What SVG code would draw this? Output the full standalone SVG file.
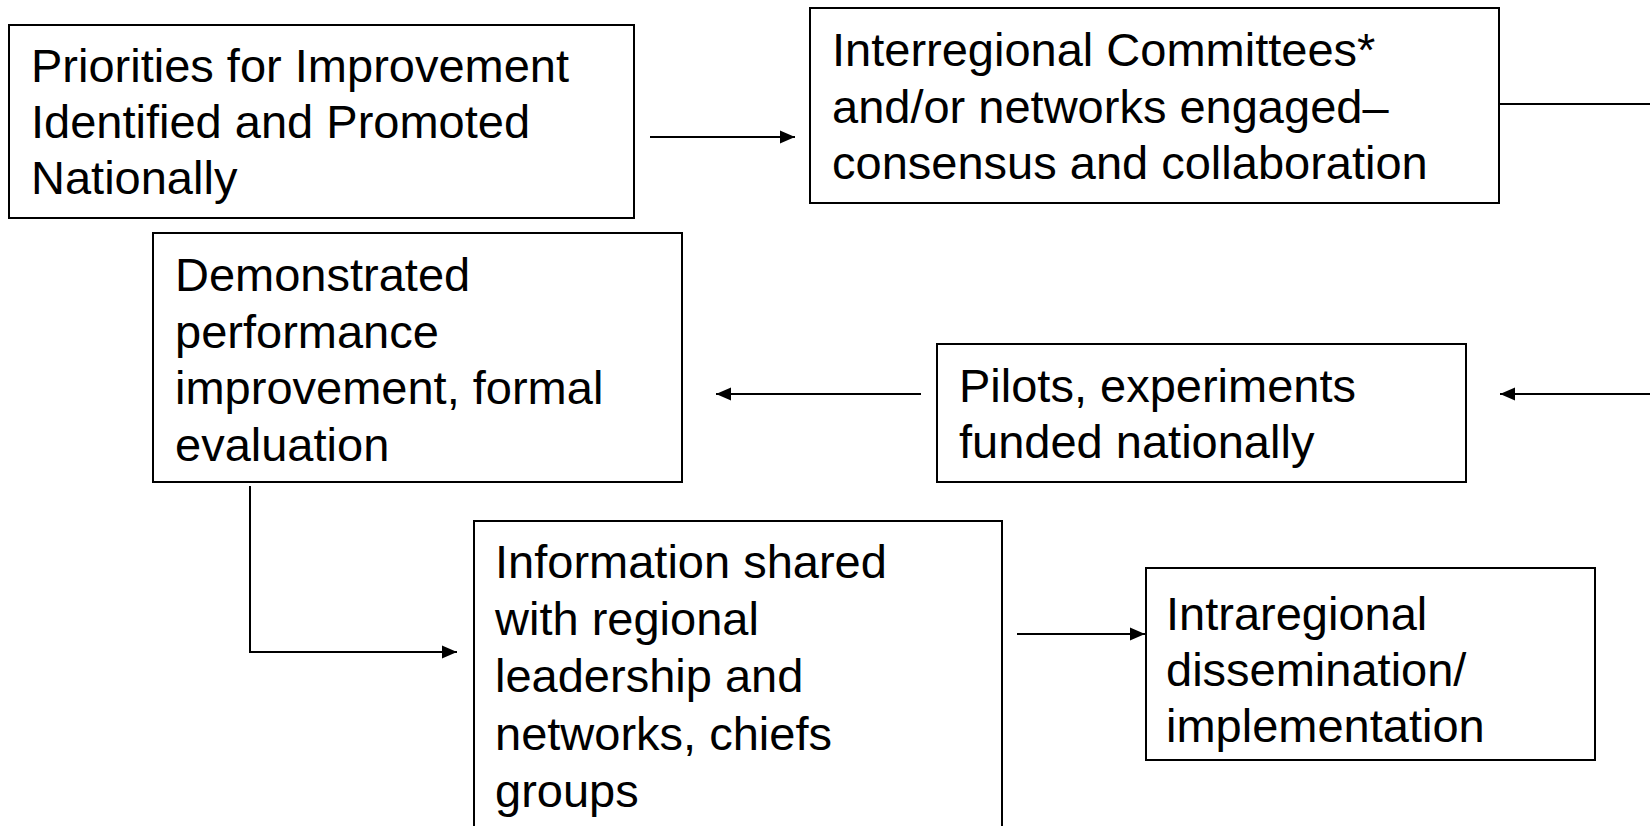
<svg xmlns="http://www.w3.org/2000/svg" width="1650" height="826" viewBox="0 0 1650 826">
  <style>
    .box { fill: #ffffff; stroke: #000000; stroke-width: 2; }
    .label { font-family: "Liberation Sans", Arial, sans-serif; font-size: 47px; fill: #000000; }
    .link { fill: none; stroke: #000000; stroke-width: 2; }
    .arrow { marker-end: url(#head); }
  </style>
  <defs>
    <marker id="head" markerUnits="userSpaceOnUse" markerWidth="16" markerHeight="14" refX="15" refY="7" orient="auto">
      <path d="M0,0.5 L15,7 L0,13.5 Z" fill="#000000"/>
    </marker>
  </defs>

  <rect width="1650" height="826" fill="#ffffff"/>

  <!-- connectors -->
  <g id="connectors">
    <line class="link arrow" x1="650" y1="137" x2="795" y2="137"/>
    <line class="link" x1="1499" y1="104" x2="1650" y2="104"/>
    <line class="link arrow" x1="1650" y1="394" x2="1500" y2="394"/>
    <line class="link arrow" x1="921" y1="394" x2="716" y2="394"/>
    <polyline class="link arrow" points="250,486 250,652 457,652"/>
    <line class="link arrow" x1="1017" y1="634" x2="1145" y2="634"/>
  </g>

  <!-- nodes -->
  <g id="priorities">
    <rect class="box" x="9" y="25" width="625" height="193"/>
    <text class="label" x="31" y="82">Priorities for Improvement</text>
    <text class="label" x="31" y="138">Identified and Promoted</text>
    <text class="label" x="31" y="194">Nationally</text>
  </g>

  <g id="interregional">
    <rect class="box" x="810" y="8" width="689" height="195"/>
    <text class="label" x="832" y="66">Interregional Committees*</text>
    <text class="label" x="832" y="123">and/or networks engaged–</text>
    <text class="label" x="832" y="179">consensus and collaboration</text>
  </g>

  <g id="demonstrated">
    <rect class="box" x="153" y="233" width="529" height="249"/>
    <text class="label" x="175" y="291">Demonstrated</text>
    <text class="label" x="175" y="348">performance</text>
    <text class="label" x="175" y="404">improvement, formal</text>
    <text class="label" x="175" y="461">evaluation</text>
  </g>

  <g id="pilots">
    <rect class="box" x="937" y="344" width="529" height="138"/>
    <text class="label" x="959" y="402">Pilots, experiments</text>
    <text class="label" x="959" y="458">funded nationally</text>
  </g>

  <g id="information">
    <rect class="box" x="474" y="521" width="528" height="330"/>
    <text class="label" x="495" y="578">Information shared</text>
    <text class="label" x="495" y="635">with regional</text>
    <text class="label" x="495" y="692">leadership and</text>
    <text class="label" x="495" y="750">networks, chiefs</text>
    <text class="label" x="495" y="807">groups</text>
  </g>

  <g id="intraregional">
    <rect class="box" x="1146" y="568" width="449" height="192"/>
    <text class="label" x="1166" y="630">Intraregional</text>
    <text class="label" x="1166" y="686">dissemination/</text>
    <text class="label" x="1166" y="742">implementation</text>
  </g>
</svg>
